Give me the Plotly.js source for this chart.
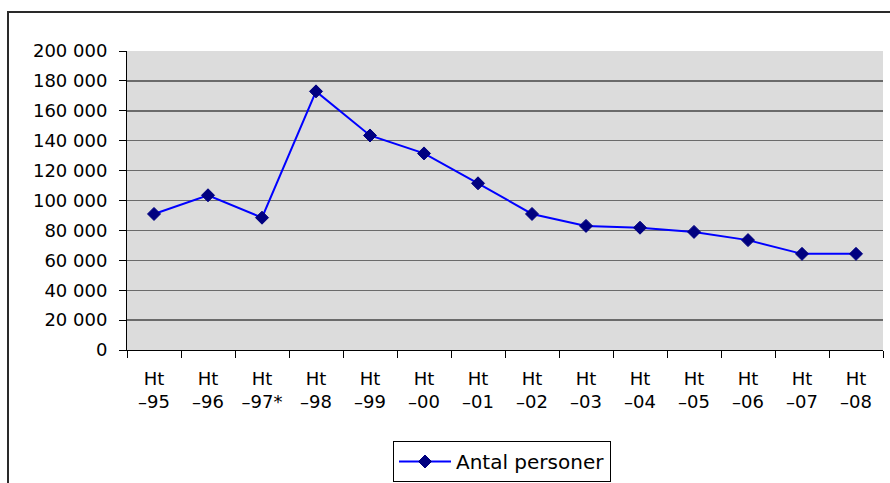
<!DOCTYPE html>
<html>
<head>
<meta charset="utf-8">
<script src="https://cdn.plot.ly/plotly-3.0.1.min.js"></script>
<style>html,body{margin:0;padding:0;background:#fff;}</style>
</head>
<body>
<div id="chart" style="width:890px;height:483px;"></div>
<script>
const categories = ["Ht<br>–95","Ht<br>–96","Ht<br>–97*","Ht<br>–98","Ht<br>–99","Ht<br>–00","Ht<br>–01","Ht<br>–02","Ht<br>–03","Ht<br>–04","Ht<br>–05","Ht<br>–06","Ht<br>–07","Ht<br>–08"];
const antalPersoner = [91000, 103500, 88500, 173000, 143500, 131500, 111500, 91000, 83000, 81800, 79000, 73500, 64300, 64300];
const seriesName = "Antal personer";
const yTicks = [0, 20000, 40000, 60000, 80000, 100000, 120000, 140000, 160000, 180000, 200000];

const W = 890, H = 483;
const L = 127, R = 7, T = 51, B = 133;
const pw = W - L - R, ph = H - T - B;
const px = v => (v - L) / pw;
const py = v => (H - B - v) / ph;

const font = {family: "DejaVu Sans, Arial, sans-serif", size: 18, color: "#000"};

const trace = {
  type: "scatter",
  mode: "lines+markers",
  x: categories,
  y: antalPersoner,
  name: seriesName,
  line: {color: "#0000ff", width: 2},
  marker: {symbol: "diamond", size: 10, color: "#000080", line: {color: "#000080", width: 1}},
  showlegend: true
};

const layout = {
  width: W, height: H, autosize: false,
  margin: {l: L, r: R, t: T, b: B, pad: 0, autoexpand: false},
  paper_bgcolor: "#ffffff",
  plot_bgcolor: "#dcdcdc",
  separators: ", ",
  font: font,
  showlegend: true,
  xaxis: {
    type: "category",
    tickson: "boundaries",
    ticks: "outside", ticklen: 7, tickwidth: 1, tickcolor: "#000",
    showline: true, linecolor: "#000", linewidth: 1,
    showgrid: false, zeroline: false,
    tickfont: font,
    ticklabelstandoff: 12,
    automargin: false,
    range: [-0.5, 13.5]
  },
  yaxis: {
    range: [0, 200000],
    tickvals: yTicks,
    tickformat: ",d",
    ticks: "outside", ticklen: 7, tickwidth: 1, tickcolor: "#000",
    showline: true, linecolor: "#000", linewidth: 1,
    showgrid: true, gridcolor: "#6b6b6b", gridwidth: 1.4,
    zeroline: false,
    tickfont: font,
    ticklabelstandoff: 8,
    automargin: false
  },
  legend: {
    x: px(393), y: py(441), xanchor: "left", yanchor: "top",
    bgcolor: "#ffffff", bordercolor: "#000", borderwidth: 1,
    itemwidth: 52,
    font: {family: "DejaVu Sans, Arial, sans-serif", size: 20, color: "#000"}
  },
  shapes: [
    {type: "rect", xref: "paper", yref: "paper",
     x0: px(8), x1: px(960), y0: py(560), y1: py(12),
     line: {color: "#2a2a2a", width: 2}, fillcolor: "rgba(0,0,0,0)"}
  ]
};

Plotly.newPlot("chart", [trace], layout, {displayModeBar: false, staticPlot: true});
</script>
</body>
</html>
